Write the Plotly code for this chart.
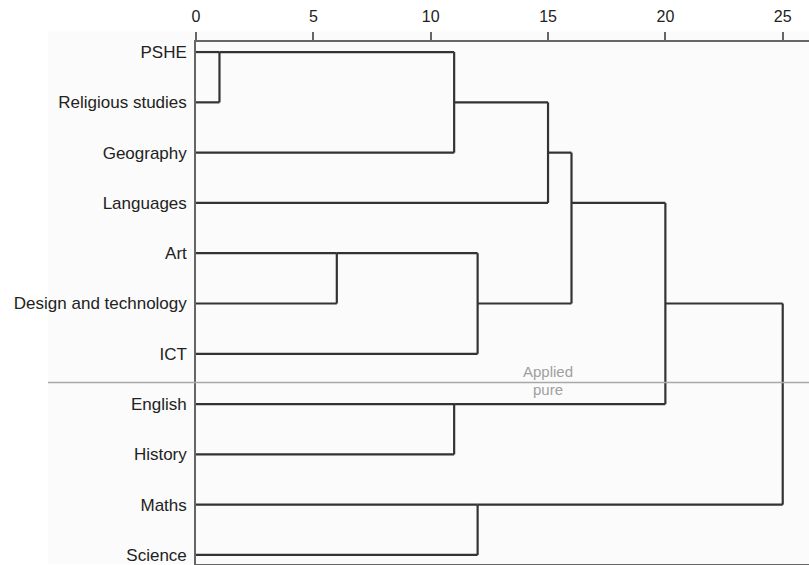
import plotly.graph_objects as go

subjects = ["PSHE", "Religious studies", "Geography", "Languages", "Art",
            "Design and technology", "ICT", "English", "History", "Maths", "Science"]
# merge steps (cluster ids continue after the 11 leaves)
merge_left = [0, 11, 12, 4, 14, 13, 7, 16, 9, 18]
merge_right = [1, 2, 3, 5, 6, 15, 8, 17, 10, 19]
merge_height = [1, 11, 15, 6, 12, 16, 11, 20, 12, 25]
x_ticks = [0, 5, 10, 15, 20, 25]
group_labels = ["Applied", "pure"]
split_after = 6  # separator between ICT and English

n = len(subjects)
pos = {i: i for i in range(n)}
hgt = {i: 0 for i in range(n)}
xs, ys = [], []
for k, (a, b, h) in enumerate(zip(merge_left, merge_right, merge_height)):
    cid = n + k
    for c in (a, b):
        xs += [hgt[c], h, None]
        ys += [pos[c], pos[c], None]
    xs += [h, h, None]
    ys += [pos[a], pos[b], None]
    pos[cid] = (pos[a] + pos[b]) // 2
    hgt[cid] = h

fig = go.Figure()
fig.add_trace(go.Scatter(x=xs, y=ys, mode="lines",
                         line=dict(color="#333333", width=2.2),
                         hoverinfo="skip", showlegend=False, cliponaxis=False))

sep_y = split_after + 0.57
fig.add_shape(type="rect", xref="paper", yref="paper", x0=-0.2414, x1=1, y0=0, y1=1.02,
              fillcolor="#fbfbfb", line=dict(width=0), layer="below")
fig.add_shape(type="line", xref="paper", yref="y", x0=-0.2414, x1=1, y0=sep_y, y1=sep_y,
              line=dict(color="#a8a8a8", width=1.6))
fig.add_annotation(x=15, y=sep_y, text=group_labels[0], showarrow=False, yanchor="bottom",
                   yshift=0, font=dict(size=15, color="#a0a0a0", family="Liberation Sans, Arial"))
fig.add_annotation(x=15, y=sep_y, text=group_labels[1], showarrow=False, yanchor="top",
                   yshift=3, font=dict(size=15, color="#a0a0a0", family="Liberation Sans, Arial"))

fig.update_layout(
    width=809, height=565,
    margin=dict(l=196, r=0, t=42, b=1, autoexpand=False),
    paper_bgcolor="white", plot_bgcolor="#fbfbfb",
    font=dict(family="Liberation Sans, Arial", color="#222222"),
    xaxis=dict(side="top", range=[0, 26.12], tickvals=x_ticks, ticktext=[str(v) for v in x_ticks],
               automargin=False,
               showgrid=False, zeroline=False, showline=True, linecolor="#666666", linewidth=1.6,
               mirror=True, ticks="outside", ticklen=8, tickwidth=1.5, tickcolor="#666666",
               ticklabelstandoff=4, tickfont=dict(size=16, color="#222222")),
    yaxis=dict(range=[10.18, -0.2], tickvals=list(range(n)), ticktext=subjects,
               automargin=False,
               showgrid=False, zeroline=False, showline=True, linecolor="#666666", linewidth=1.6,
               ticks="", ticklabelstandoff=4, tickfont=dict(size=17, color="#222222")),
)
fig.write_html("out.html", config={"displayModeBar": False},
               post_script="document.body.style.margin='0';document.body.style.overflow='hidden';")
